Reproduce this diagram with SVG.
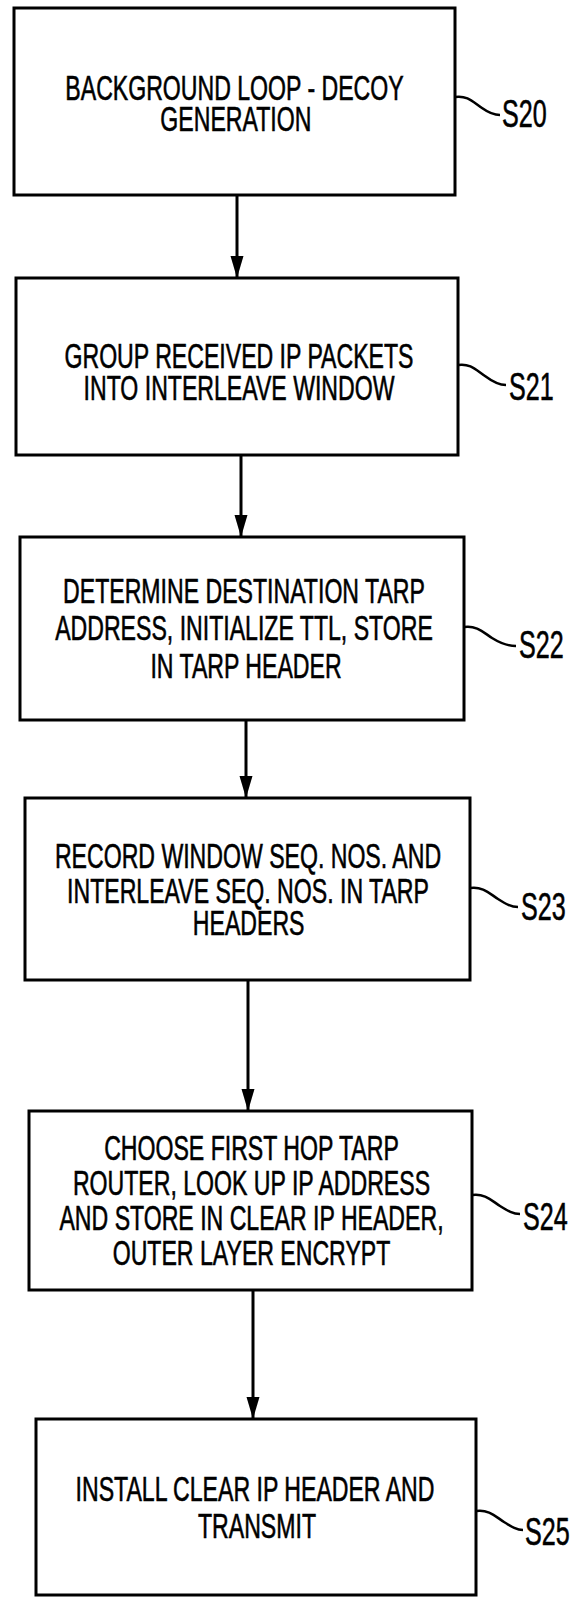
<svg xmlns="http://www.w3.org/2000/svg" width="573" height="1598" viewBox="0 0 573 1598">
<style>
.box{fill:#fff;stroke:#000;stroke-width:3}
.t{font-family:"Liberation Sans",Arial,sans-serif;font-size:35px;fill:#000;stroke:#000;stroke-width:0.6;text-anchor:middle}
.lbl{font-family:"Liberation Sans",Arial,sans-serif;font-size:38px;fill:#000;stroke:#000;stroke-width:0.6}
.conn{stroke:#000;stroke-width:3;fill:none}
.lead{stroke:#000;stroke-width:2.5;fill:none}
</style>
<defs>
<marker id="ah" viewBox="0 0 22 14" refX="22" refY="7" markerWidth="22" markerHeight="14" markerUnits="userSpaceOnUse" orient="auto">
<path d="M0,0.5 L22,7 L0,13.5 Z" fill="#000"/>
</marker>
</defs>
<rect width="573" height="1598" fill="#fff"/>
<g id="connectors">
<line class="conn" x1="237" y1="195" x2="237" y2="278" marker-end="url(#ah)"/>
<line class="conn" x1="241" y1="455" x2="241" y2="537" marker-end="url(#ah)"/>
<line class="conn" x1="246" y1="720" x2="246" y2="798" marker-end="url(#ah)"/>
<line class="conn" x1="248" y1="980" x2="248" y2="1111" marker-end="url(#ah)"/>
<line class="conn" x1="253" y1="1290" x2="253" y2="1419" marker-end="url(#ah)"/>
</g>
<g id="S20">
<rect class="box" x="14" y="8" width="441" height="187"/>
<text class="t" transform="translate(234.5,0) scale(0.66,1)"><tspan x="0" y="100">BACKGROUND LOOP - DECOY</tspan><tspan x="2" y="131">GENERATION</tspan></text>
<path class="lead" d="M455,97 C468,95 474,103 482,108 C489,113 494,115 500,115"/>
<text class="lbl" transform="translate(502,127) scale(0.66,1)">S20</text>
</g>
<g id="S21">
<rect class="box" x="16" y="278" width="442" height="177"/>
<text class="t" transform="translate(239,0) scale(0.66,1)"><tspan x="0" y="368">GROUP RECEIVED IP PACKETS</tspan><tspan x="0" y="400">INTO INTERLEAVE WINDOW</tspan></text>
<path class="lead" d="M458,365 C471,363 477,371 485,376 C493,382 499,385 506,385"/>
<text class="lbl" transform="translate(509,400) scale(0.66,1)">S21</text>
</g>
<g id="S22">
<rect class="box" x="20" y="537" width="444" height="183"/>
<text class="t" transform="translate(244,0) scale(0.66,1)"><tspan x="0" y="603">DETERMINE DESTINATION TARP</tspan><tspan x="0" y="640">ADDRESS, INITIALIZE TTL, STORE</tspan><tspan x="3" y="678">IN TARP HEADER</tspan></text>
<path class="lead" d="M464,627 C477,625 484,633 492,638 C500,643 507,646 516,646"/>
<text class="lbl" transform="translate(519,658) scale(0.66,1)">S22</text>
</g>
<g id="S23">
<rect class="box" x="25" y="798" width="445" height="182"/>
<text class="t" transform="translate(248,0) scale(0.66,1)"><tspan x="0" y="868">RECORD WINDOW SEQ. NOS. AND</tspan><tspan x="0" y="903">INTERLEAVE SEQ. NOS. IN TARP</tspan><tspan x="1" y="935">HEADERS</tspan></text>
<path class="lead" d="M470,888 C483,886 490,894 498,899 C506,904 511,907 518,907"/>
<text class="lbl" transform="translate(521,920) scale(0.66,1)">S23</text>
</g>
<g id="S24">
<rect class="box" x="29" y="1111" width="443" height="179"/>
<text class="t" transform="translate(251.5,0) scale(0.66,1)"><tspan x="0" y="1160">CHOOSE FIRST HOP TARP</tspan><tspan x="0" y="1195">ROUTER, LOOK UP IP ADDRESS</tspan><tspan x="0" y="1230">AND STORE IN CLEAR IP HEADER,</tspan><tspan x="0" y="1265">OUTER LAYER ENCRYPT</tspan></text>
<path class="lead" d="M472,1195 C485,1193 492,1201 500,1206 C508,1211 513,1214 520,1214"/>
<text class="lbl" transform="translate(523,1230) scale(0.66,1)">S24</text>
</g>
<g id="S25">
<rect class="box" x="36" y="1419" width="440" height="176"/>
<text class="t" transform="translate(255,0) scale(0.66,1)"><tspan x="0" y="1501">INSTALL CLEAR IP HEADER AND</tspan><tspan x="3" y="1538">TRANSMIT</tspan></text>
<path class="lead" d="M476,1511 C489,1509 496,1517 504,1522 C512,1527 517,1530 523,1530"/>
<text class="lbl" transform="translate(525,1545) scale(0.66,1)">S25</text>
</g>
</svg>
